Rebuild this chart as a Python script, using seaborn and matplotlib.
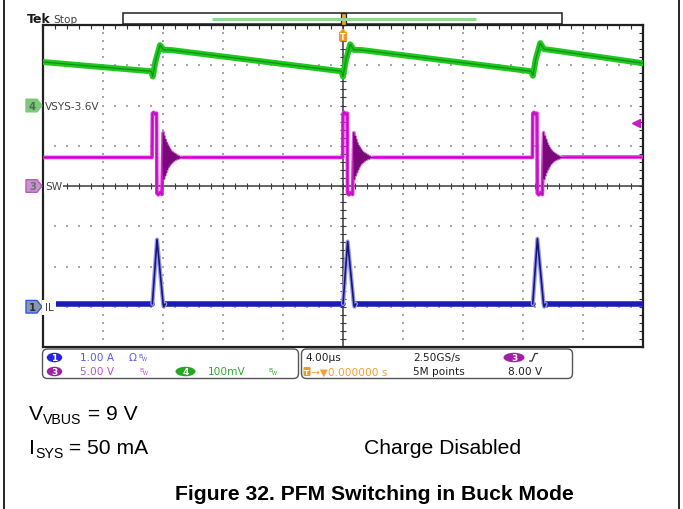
import numpy as np
import pandas as pd
import matplotlib
matplotlib.use("Agg")
import matplotlib.pyplot as plt
from matplotlib.patches import FancyBboxPatch, Polygon, Rectangle, Ellipse
import seaborn as sns

# ---------------- data ----------------
# x: time in µs (4 µs/div, trigger at 0), y: screen divisions (-4 .. +4)
vsys_t = [-20.0, -12.78, -12.68, -12.50, -12.20, -11.95, -11.50,
          -0.10, 0.00, 0.18, 0.48, 0.73, 1.20,
          12.55, 12.66, 12.85, 13.15, 13.40, 13.85, 20.0]
vsys_v = [3.08, 2.85, 2.72, 3.10, 3.50, 3.38, 3.38,
          2.85, 2.72, 3.10, 3.52, 3.38, 3.38,
          2.85, 2.74, 3.15, 3.55, 3.40, 3.38, 3.05]

switch_events = [-12.71, 0.00, 12.65]          # SW rising edges (µs)
sw_level = 0.71                                  # SW idle level (div)
sw_pulse_dt = [-0.02, 0.00, 0.08, 0.18, 0.28, 0.30, 0.40, 0.52, 0.64, 0.72]
sw_pulse_v = [0.71, 1.80, 1.83, 1.78, 1.81, -0.18, -0.22, -0.16, -0.21, 1.32]
sw_ring_dt = [0.72, 0.76, 0.80, 0.84, 0.88, 0.92, 0.96, 1.00, 1.04, 1.08,
              1.12, 1.16, 1.20, 1.24, 1.28, 1.32, 1.36, 1.40, 1.44, 1.48,
              1.52, 1.56, 1.60, 1.65, 1.70, 1.75, 1.80, 1.86, 1.95]
sw_ring_v = [1.32, 0.17, 1.24, 0.26, 1.15, 0.34, 1.07, 0.41, 1.00, 0.47,
             0.95, 0.52, 0.90, 0.56, 0.86, 0.59, 0.83, 0.62, 0.81, 0.64,
             0.79, 0.66, 0.77, 0.67, 0.75, 0.68, 0.73, 0.70, 0.71]

il_level = -2.93                                 # inductor current idle (div)
il_peaks = [-1.33, -1.38, -1.31]                 # peak of each current pulse
il_pulse_dt = [0.00, 0.31, 0.72, 0.76, 0.86]
il_pulse_v = [-2.93, -1.33, -2.93, -3.00, -2.93]

trig_level = 1.56                                # 8.00 V on ch3 (div)

# ---------------- build tables ----------------
sw_main, sw_ring = [], []
unit = 0
sw_main.append((-20.0, sw_level, unit))
for k, t0 in enumerate(switch_events):
    for dt, v in zip(sw_pulse_dt, sw_pulse_v):
        sw_main.append((t0 + dt, v, unit))
    for dt, v in zip(sw_ring_dt, sw_ring_v):
        sw_ring.append((t0 + dt, v, k))
    unit += 1
    sw_main.append((t0 + sw_ring_dt[-1], sw_ring_v[-1], unit))
sw_main.append((20.0, sw_level, unit))
sw_main = pd.DataFrame(sw_main, columns=["t", "v", "u"])
sw_ring = pd.DataFrame(sw_ring, columns=["t", "v", "u"])

il_base, il_pulse = [], []
unit = 0
il_base.append((-20.0, il_level, unit))
for k, t0 in enumerate(switch_events):
    il_base.append((t0, il_level, unit))
    unit += 1
    il_base.append((t0 + il_pulse_dt[-1], il_level, unit))
    for j, (dt, v) in enumerate(zip(il_pulse_dt, il_pulse_v)):
        il_pulse.append((t0 + dt, il_peaks[k] if j == 1 else v, k))
il_base.append((20.0, il_level, unit))
il_base = pd.DataFrame(il_base, columns=["t", "v", "u"])
il_pulse = pd.DataFrame(il_pulse, columns=["t", "v", "u"])

vsys = pd.DataFrame({"t": vsys_t, "v": vsys_v})

# ---------------- figure ----------------
sns.set_style("white")
plt.rcParams["font.family"] = ["DejaVu Sans"]
W, H = 683, 510
fig = plt.figure(figsize=(W / 100, H / 100), dpi=100)
fig.patch.set_facecolor("white")

L, R, T, B = 43, 643, 26, 348
ax = fig.add_axes([L / W, 1 - B / H, (R - L) / W, (B - T) / H])
ax.set_xlim(-20, 20)
ax.set_ylim(-4, 4)
ax.set_facecolor("white")

# graticule dots
gx = np.arange(-4, 4.001, 0.2)
for xv in [-16, -12, -8, -4, 4, 8, 12, 16]:
    ax.scatter(np.full_like(gx, xv), gx, s=1.1, marker="s", color="#a8a8a8",
               linewidths=0, zorder=1)
gt = np.arange(-20, 20.001, 0.8)
for yv in [-3, -2, -1, 1, 2, 3]:
    ax.scatter(gt, np.full_like(gt, yv), s=1.1, marker="s", color="#a8a8a8",
               linewidths=0, zorder=1)
# centre lines with minor ticks
ax.axhline(0, color="#3a3a3a", lw=1.1, zorder=2)
ax.axvline(0, color="#3a3a3a", lw=1.1, zorder=2)
ax.scatter(gt, np.zeros_like(gt), marker="|", s=16, color="#3a3a3a", lw=0.8, zorder=2)
ax.scatter(np.zeros_like(gx), gx, marker="_", s=16, color="#3a3a3a", lw=0.8, zorder=2)

ax.set_xticks(gt)
ax.set_yticks(gx)
ax.tick_params(direction="in", length=3, width=0.8, color="#303030",
               top=True, right=True, labelbottom=False, labelleft=False)
for sp in ax.spines.values():
    sp.set_color("#202020")
    sp.set_linewidth(1.6)

# ---- traces ----
sns.lineplot(data=vsys, x="t", y="v", sort=False, estimator=None,
             color="#1FC81F", lw=4.3, ax=ax, zorder=5)
sns.lineplot(data=vsys, x="t", y="v", sort=False, estimator=None,
             color="#0B7A0B", lw=0.9, alpha=0.7, ax=ax, zorder=6)

sns.lineplot(data=sw_main, x="t", y="v", units="u", sort=False, estimator=None,
             color="#E522E5", lw=2.6, ax=ax, zorder=5)
sns.lineplot(data=sw_main, x="t", y="v", units="u", sort=False, estimator=None,
             color="#B010B0", lw=0.8, ax=ax, zorder=6)
sns.lineplot(data=sw_ring, x="t", y="v", units="u", sort=False, estimator=None,
             color="#E070E0", lw=2.2, ax=ax, zorder=5)
sns.lineplot(data=sw_ring, x="t", y="v", units="u", sort=False, estimator=None,
             color="#7A087A", lw=0.9, ax=ax, zorder=6)

sns.lineplot(data=il_base, x="t", y="v", units="u", sort=False, estimator=None,
             color="#1C1CB8", lw=4.0, ax=ax, zorder=5)
sns.lineplot(data=il_pulse, x="t", y="v", units="u", sort=False, estimator=None,
             color="#9A9AEA", lw=3.0, ax=ax, zorder=5)
sns.lineplot(data=il_pulse, x="t", y="v", units="u", sort=False, estimator=None,
             color="#15157A", lw=1.2, ax=ax, zorder=6)

ax.plot([19.55], [trig_level], marker="<", markersize=5.5, color="#C020C0",
        zorder=7, clip_on=False)
ax.set_xlabel("")
ax.set_ylabel("")

# ---------------- overlay in pixel coordinates ----------------
ov = fig.add_axes([0, 0, 1, 1], zorder=10)
ov.set_xlim(0, W)
ov.set_ylim(H, 0)
ov.axis("off")
ov.patch.set_alpha(0)

PT = 1 / 1.389  # px -> pt
# page frame
ov.plot([4, 4], [0, H], color="black", lw=1.2)
ov.plot([679, 679], [0, H], color="black", lw=1.2)

# header
ov.text(27, 23, "Tek", fontsize=12.5 * PT, fontweight="bold", color="#1a1a1a",
        va="baseline", ha="left")
ov.text(53, 23, "Stop", fontsize=10.5 * PT, color="#404040", va="baseline", ha="left")
ov.add_patch(Rectangle((123, 14), 439, 11, fill=False, ec="#202020", lw=1.1))
ov.plot([212, 476], [19.5, 19.5], color="#92D892", lw=2.2, solid_capstyle="butt")
ov.add_patch(Rectangle((340.5, 13.5), 5, 12, fc="#F3A02A", ec="#202020", lw=0.9))
ov.add_patch(FancyBboxPatch((339, 32.5), 8, 10, boxstyle="round,pad=0,rounding_size=1.5",
                            fc="#F39A1E", ec="none"))
ov.add_patch(Polygon([[340, 32.5], [346, 32.5], [343, 29.5]], closed=True,
                     fc="#F39A1E", ec="none"))
ov.text(343, 38, "T", fontsize=8 * PT, fontweight="bold", color="white",
        ha="center", va="center")

# channel markers on the left
def marker(yc, fc, ec, label, tc):
    pts = [[26, yc - 6.3], [37, yc - 6.3], [42, yc], [37, yc + 6.3], [26, yc + 6.3]]
    ov.add_patch(Polygon(pts, closed=True, fc=fc, ec=ec, lw=1.0, joinstyle="round"))
    ov.text(32.5, yc + 0.5, label, fontsize=10 * PT, fontweight="bold", color=tc,
            ha="center", va="center")

y_of = lambda v: 187 - v * 40.25
marker(y_of(2.0), "#7CC77C", "#7CC77C", "4", "#4d6b4d")
marker(y_of(0.0), "#C892CC", "#B060B8", "3", "#707070")
marker(y_of(-3.0), "#8E97AA", "#2A5BE0", "1", "#2a2a40")
lab_bg = dict(boxstyle="square,pad=0.12", fc="white", ec="none")
ov.text(45, y_of(2.0) + 0.5, "VSYS-3.6V", fontsize=10.5 * PT, color="#454545",
        va="center", bbox=lab_bg)
ov.text(45, y_of(0.0) + 0.5, "SW", fontsize=10.5 * PT, color="#454545",
        va="center", bbox=lab_bg)
ov.text(45, y_of(-3.0) + 0.5, "IL", fontsize=10.5 * PT, color="#454545",
        va="center", bbox=dict(boxstyle="square,pad=0.25", fc="white", ec="none"))

# ---------------- info panel ----------------
for x0, x1 in [(42.5, 298.5), (301.5, 572.5)]:
    ov.add_patch(FancyBboxPatch((x0, 350), x1 - x0, 29.5,
                                boxstyle="round,pad=0,rounding_size=5",
                                fc="white", ec="#555555", lw=1.0))
r1, r2 = 358.5, 372.5
FS = 10.5 * PT

def badge(xc, yc, w, col, txt):
    ov.add_patch(Ellipse((xc, yc), w, 9.5, fc=col, ec="none"))
    ov.text(xc, yc + 0.3, txt, fontsize=9 * PT, fontweight="bold", color="white",
            ha="center", va="center")

def bw(x, y, col):
    ov.text(x, y - 2, "B", fontsize=6 * PT, color=col, ha="left", va="center")
    ov.text(x + 4, y + 1.5, "W", fontsize=5 * PT, color=col, ha="left", va="center")

badge(54.5, r1, 15.5, "#2424E0", "1")
ov.text(80, r1, "1.00 A", fontsize=FS, color="#5A5AF0", va="center")
ov.text(129, r1, "Ω", fontsize=FS, color="#5A5AF0", va="center")
bw(138, r1, "#5A5AF0")
badge(54.5, r2, 15.5, "#A020A8", "3")
ov.text(80, r2, "5.00 V", fontsize=FS, color="#C050C8", va="center")
bw(139, r2, "#C050C8")
badge(185.5, r2, 20, "#22A822", "4")
ov.text(208, r2, "100mV", fontsize=FS, color="#30A830", va="center")
bw(268, r2, "#30A830")

ov.text(305, r1, "4.00µs", fontsize=FS, color="#202020", va="center")
ov.text(413, r1, "2.50GS/s", fontsize=FS, color="#202020", va="center")
badge(514, r1, 21, "#A020A8", "3")
ov.plot([529.5, 532, 535, 537.5], [362, 362, 354.5, 354.5], color="#303030", lw=0.9)
ov.add_patch(FancyBboxPatch((303.5, 368), 7, 9, boxstyle="round,pad=0,rounding_size=1",
                            fc="#F39A1E", ec="none"))
ov.text(307, r2 + 0.3, "T", fontsize=7.5 * PT, fontweight="bold", color="white",
        ha="center", va="center")
ov.text(311, r2, "→▼0.000000 s", fontsize=FS, color="#F5A030", va="center")
ov.text(413, r2, "5M points", fontsize=FS, color="#202020", va="center")
ov.text(508, r2, "8.00 V", fontsize=FS, color="#202020", va="center")

# ---------------- caption text ----------------
cap = dict(family=["Liberation Sans", "DejaVu Sans"], color="black")
big, small = 15.2, 10.2
fig.canvas.draw()
rend = fig.canvas.get_renderer()

def run(x, y, parts):
    for txt, size, dy in parts:
        t = ov.text(x, y + dy, txt, fontsize=size, va="baseline", ha="left", **cap)
        bb = t.get_window_extent(renderer=rend)
        x += bb.width

run(29, 420, [("V", big, 0), ("VBUS", small, 4.5), (" = 9 V", big, 0)])
run(29, 454, [("I", big, 0), ("SYS", small, 4.5), (" = 50 mA", big, 0)])
ov.text(364, 454, "Charge Disabled", fontsize=big, va="baseline", ha="left", **cap)
ov.text(374.5, 500, "Figure 32. PFM Switching in Buck Mode", fontsize=big,
        fontweight="bold", va="baseline", ha="center", **cap)

fig.savefig("out.png", dpi=100, facecolor="white")
